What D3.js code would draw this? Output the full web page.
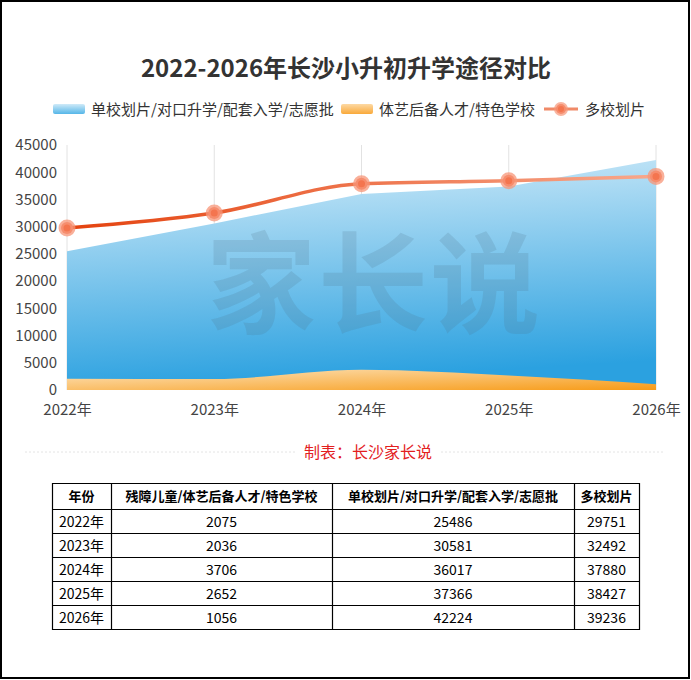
<!DOCTYPE html>
<html>
<head>
<meta charset="utf-8">
<script src="https://cdn.jsdelivr.net/npm/d3@7"></script>
<style>
html,body{margin:0;padding:0;background:#fff;}
svg{display:block;font-family:"Noto Sans CJK SC","Noto Sans",sans-serif;}
</style>
</head>
<body>
<svg id="chart" width="691" height="680"></svg>
<script>
const years = ["2022年","2023年","2024年","2025年","2026年"];
const specialValues = [2075, 2036, 3706, 2652, 1056];
const singleValues = [25486, 30581, 36017, 37366, 42224];
const multiValues = [29751, 32492, 37880, 38427, 39236];
const yTicks = [0,5000,10000,15000,20000,25000,30000,35000,40000,45000];
const seriesNames = ["单校划片/对口升学/配套入学/志愿批","体艺后备人才/特色学校","多校划片"];
const tableHeaders = ["年份","残障儿童/体艺后备人才/特色学校","单校划片/对口升学/配套入学/志愿批","多校划片"];
const titleText = "2022-2026年长沙小升初升学途径对比";
const sourceText = "制表：长沙家长说";
const watermarkText = "家长说";

const svg = d3.select("#chart");
const defs = svg.append("defs");
const FONT = "'Noto Sans CJK SC','Noto Sans',sans-serif";

// gradients
const gBlue = defs.append("linearGradient").attr("id","gBlue").attr("x1",0).attr("y1",0).attr("x2",0.15).attr("y2",1);
gBlue.append("stop").attr("offset","0%").attr("stop-color","#d3ecf9");
gBlue.append("stop").attr("offset","100%").attr("stop-color","#2ba1e0");
const gOrange = defs.append("linearGradient").attr("id","gOrange").attr("x1",0).attr("y1",0).attr("x2",1).attr("y2",1);
gOrange.append("stop").attr("offset","0%").attr("stop-color","#fde3bb");
gOrange.append("stop").attr("offset","100%").attr("stop-color","#f79b17");
const gLine = defs.append("linearGradient").attr("id","gLine").attr("x1",0).attr("y1",0).attr("x2",1).attr("y2",0);
gLine.append("stop").attr("offset","0%").attr("stop-color","#e4420e");
gLine.append("stop").attr("offset","100%").attr("stop-color","#f8a88c");
const gLegB = defs.append("linearGradient").attr("id","gLegB").attr("x1",0).attr("y1",0).attr("x2",0).attr("y2",1);
gLegB.append("stop").attr("offset","0%").attr("stop-color","#cfeaf8");
gLegB.append("stop").attr("offset","100%").attr("stop-color","#55b6e8");
const gLegO = defs.append("linearGradient").attr("id","gLegO").attr("x1",0).attr("y1",0).attr("x2",0).attr("y2",1);
gLegO.append("stop").attr("offset","0%").attr("stop-color","#fdd9a4");
gLegO.append("stop").attr("offset","100%").attr("stop-color","#f9a93a");

// border
svg.append("rect").attr("x",1).attr("y",1).attr("width",688).attr("height",677)
  .attr("fill","#fff").attr("stroke","#000").attr("stroke-width",2);

// title
svg.append("text").attr("x",346).attr("y",77).attr("text-anchor","middle")
  .attr("font-size",24).attr("font-weight",700).attr("fill","#333").text(titleText);

// legend
const leg = svg.append("g").attr("font-size",15).attr("fill","#333");
leg.append("rect").attr("x",53).attr("y",104).attr("width",32).attr("height",10).attr("rx",2).attr("fill","url(#gLegB)");
leg.append("text").attr("x",91).attr("y",114.5).attr("fill","#333").text(seriesNames[0]);
leg.append("rect").attr("x",341).attr("y",104).attr("width",32).attr("height",10).attr("rx",2).attr("fill","url(#gLegO)");
leg.append("text").attr("x",379).attr("y",114.5).attr("fill","#333").text(seriesNames[1]);
leg.append("line").attr("x1",544).attr("x2",578).attr("y1",109).attr("y2",109).attr("stroke","#f08a68").attr("stroke-width",3);
leg.append("circle").attr("cx",561).attr("cy",109).attr("r",5).attr("fill","#f4754f").attr("stroke","rgba(246,150,120,0.7)").attr("stroke-width",4);
leg.append("text").attr("x",585).attr("y",114.5).attr("fill","#333").text(seriesNames[2]);

// scales
const x = d3.scalePoint().domain(years).range([67,656]);
const y = d3.scaleLinear().domain([0,45000]).range([390,145]);

// grid lines
svg.append("g").selectAll("line").data(years).join("line")
  .attr("x1",d=>x(d)).attr("x2",d=>x(d)).attr("y1",y(45000)).attr("y2",y(0))
  .attr("stroke","#e2e2e2").attr("stroke-width",1);

// y axis
const yAxis = svg.append("g").attr("transform","translate(57,0)")
  .call(d3.axisLeft(y).tickValues(yTicks).tickSize(0).tickPadding(0).tickFormat(d3.format("d")));
yAxis.select(".domain").remove();
yAxis.selectAll("text").attr("font-size",15).attr("fill","#444").attr("font-family",FONT);

// x axis
const xAxis = svg.append("g").attr("transform","translate(0,401)")
  .call(d3.axisBottom(x).tickSize(0).tickPadding(0));
xAxis.select(".domain").remove();
xAxis.selectAll("text").attr("font-size",15).attr("fill","#444").attr("dy","0.9em").attr("font-family",FONT);

// areas
const blueArea = d3.area().x((d,i)=>x(years[i])).y0(y(0)).y1(d=>y(d)).curve(d3.curveLinear);
svg.append("path").datum(singleValues).attr("d",blueArea).attr("fill","url(#gBlue)");
const orangeArea = d3.area().x((d,i)=>x(years[i])).y0(y(0)).y1(d=>y(d)).curve(d3.curveMonotoneX);
svg.append("path").datum(specialValues).attr("d",orangeArea).attr("fill","url(#gOrange)");

// watermark
svg.append("text").attr("x",374).attr("y",325).attr("text-anchor","middle")
  .attr("font-size",110).attr("font-weight",700).attr("fill","rgba(80,110,135,0.18)")
  .attr("letter-spacing",2).text(watermarkText);

// line
const line = d3.line().x((d,i)=>x(years[i])).y(d=>y(d)).curve(d3.curveMonotoneX);
svg.append("path").datum(multiValues).attr("d",line).attr("fill","none")
  .attr("stroke","url(#gLine)").attr("stroke-width",3.5);
svg.append("g").selectAll("circle").data(multiValues).join("circle")
  .attr("cx",(d,i)=>x(years[i])).attr("cy",d=>y(d)).attr("r",6)
  .attr("fill","#f4754f").attr("stroke","rgba(247,150,120,0.75)").attr("stroke-width",5);

// separator & source
svg.append("line").attr("x1",25).attr("x2",665).attr("y1",452).attr("y2",452)
  .attr("stroke","#e4e4e4").attr("stroke-width",1).attr("stroke-dasharray","2,2");
svg.append("rect").attr("x",296).attr("y",441).attr("width",144).attr("height",22).attr("fill","#fff");
svg.append("text").attr("x",368).attr("y",457.5).attr("text-anchor","middle")
  .attr("font-size",16).attr("fill","#e3201e").text(sourceText);

// table
const colX = [52,111,332,574,639];
const rowY = [483,509,533,557,581,605,629];
const rows = years.map((yr,i)=>[yr, specialValues[i], singleValues[i], multiValues[i]]);
const tbl = svg.append("g");
tbl.selectAll("text.h").data(tableHeaders).join("text").attr("class","h")
  .attr("x",(d,i)=>(colX[i]+colX[i+1])/2).attr("y",(rowY[0]+rowY[1])/2+5)
  .attr("text-anchor","middle").attr("font-size",13).attr("font-weight",700).attr("fill","#000").text(d=>d);
rows.forEach((r,ri)=>{
  tbl.append("g").selectAll("text").data(r).join("text")
    .attr("x",(d,i)=>(colX[i]+colX[i+1])/2).attr("y",(rowY[ri+1]+rowY[ri+2])/2+5.5)
    .attr("text-anchor","middle").attr("font-size",14).attr("fill","#000").text(d=>d);
});
tbl.selectAll("line.r").data(rowY).join("line").attr("class","r")
  .attr("x1",colX[0]).attr("x2",colX[colX.length-1]).attr("y1",d=>d+0.5).attr("y2",d=>d+0.5)
  .attr("stroke","#000").attr("stroke-width",1.2);
tbl.selectAll("line.c").data(colX).join("line").attr("class","c")
  .attr("x1",d=>d+0.5).attr("x2",d=>d+0.5).attr("y1",rowY[0]).attr("y2",rowY[rowY.length-1]+1)
  .attr("stroke","#000").attr("stroke-width",1.2);
</script>
</body>
</html>
